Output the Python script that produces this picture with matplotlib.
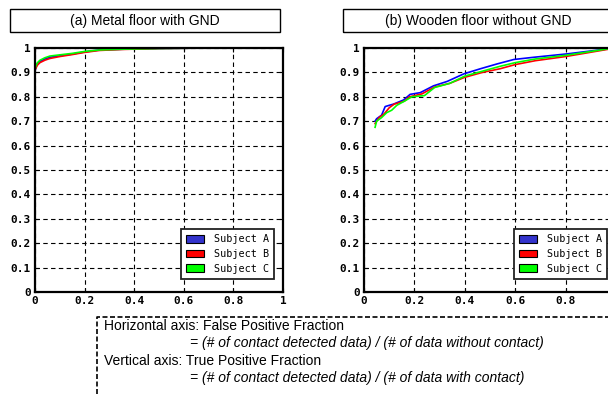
import matplotlib
matplotlib.use("Agg")
import matplotlib.pyplot as plt
from matplotlib.patches import Patch, Rectangle
from matplotlib.lines import Line2D

# ROC data
metal_x = [0.0, 0.005, 0.01, 0.02, 0.04, 0.06, 0.1, 0.15, 0.2, 0.26, 0.35, 0.5, 0.7, 1.0]
metal_a = [0.905, 0.925, 0.935, 0.945, 0.955, 0.962, 0.968, 0.975, 0.984, 0.992, 0.995, 0.998, 1.0, 1.0]
metal_b = [0.91, 0.92, 0.93, 0.94, 0.95, 0.957, 0.965, 0.973, 0.982, 0.99, 0.994, 0.998, 1.0, 1.0]
metal_c = [0.915, 0.93, 0.94, 0.95, 0.96, 0.967, 0.972, 0.978, 0.986, 0.992, 0.995, 0.998, 1.0, 1.0]

wood_xa = [0.044, 0.05, 0.07, 0.084, 0.10, 0.117, 0.157, 0.183, 0.223, 0.276, 0.33, 0.396, 0.462, 0.529, 0.595, 0.674, 0.807, 0.972, 1.0]
wood_a = [0.70, 0.71, 0.725, 0.76, 0.765, 0.77, 0.787, 0.81, 0.817, 0.845, 0.863, 0.894, 0.915, 0.935, 0.953, 0.962, 0.976, 0.997, 1.0]
wood_xb = [0.044, 0.06, 0.08, 0.10, 0.12, 0.16, 0.18, 0.23, 0.28, 0.34, 0.40, 0.47, 0.54, 0.60, 0.68, 0.80, 0.97, 1.0]
wood_b = [0.69, 0.715, 0.73, 0.755, 0.77, 0.782, 0.80, 0.812, 0.84, 0.855, 0.88, 0.90, 0.915, 0.932, 0.948, 0.965, 0.995, 1.0]
wood_xc = [0.044, 0.05, 0.07, 0.09, 0.11, 0.13, 0.16, 0.19, 0.24, 0.28, 0.34, 0.40, 0.47, 0.54, 0.60, 0.68, 0.80, 0.97, 1.0]
wood_c = [0.675, 0.70, 0.715, 0.735, 0.745, 0.765, 0.782, 0.80, 0.805, 0.838, 0.855, 0.885, 0.905, 0.925, 0.94, 0.955, 0.97, 0.997, 1.0]

subjects = ['Subject A', 'Subject B', 'Subject C']
line_colors = ['#0000ff', '#ff0000', '#00ff00']
patch_colors = ['#3333cc', '#ff0000', '#00ff00']
titles = ['(a) Metal floor with GND', '(b) Wooden floor without GND']
ticks = [0, 0.2, 0.4, 0.6, 0.8, 1]
tick_labels = ['0', '0.2', '0.4', '0.6', '0.8', '1']
yticks = [0, 0.1, 0.2, 0.3, 0.4, 0.5, 0.6, 0.7, 0.8, 0.9, 1]
ytick_labels = ['0', '0.1', '0.2', '0.3', '0.4', '0.5', '0.6', '0.7', '0.8', '0.9', '1']

W, H = 608, 394
fig = plt.figure(figsize=(W / 100, H / 100), dpi=100)

ax_a = fig.add_axes([35 / W, (H - 292) / H, 248 / W, 244 / H])
# right panel runs past the figure edge, as in the source
ax_b = fig.add_axes([364 / W, (H - 292) / H, 252 / W, 244 / H])

series = [
    (ax_a, [(metal_x, metal_a), (metal_x, metal_b), (metal_x, metal_c)]),
    (ax_b, [(wood_xa, wood_a), (wood_xb, wood_b), (wood_xc, wood_c)]),
]

for ax, curves in series:
    for (xs, ys), c in zip(curves, line_colors):
        ax.plot(xs, ys, color=c, lw=1.2)
    ax.set_xlim(0, 1)
    ax.set_ylim(0, 1)
    ax.set_xticks(ticks)
    ax.set_xticklabels(tick_labels)
    ax.set_yticks(yticks)
    ax.set_yticklabels(ytick_labels)
    for lab in ax.get_xticklabels() + ax.get_yticklabels():
        lab.set_family('DejaVu Sans Mono')
        lab.set_fontweight('bold')
        lab.set_fontsize(8)
    ax.tick_params(direction='in', length=3, width=0.8, pad=3, top=True, right=True)
    ax.grid(True, color='black', linestyle=(0, (4, 3)), linewidth=0.8)
    for sp in ax.spines.values():
        sp.set_linewidth(1.6)
    handles = [Patch(facecolor=pc, edgecolor='black', linewidth=0.8) for pc in patch_colors]
    leg = ax.legend(handles, subjects, loc='lower right',
                    bbox_to_anchor=(0.965, 0.055), fancybox=False,
                    prop={'family': 'DejaVu Sans Mono', 'size': 7.3},
                    handlelength=1.8, handleheight=0.8, handletextpad=1.0,
                    labelspacing=0.45, borderpad=0.5, borderaxespad=0.0)
    leg.get_frame().set_edgecolor('#222222')
    leg.get_frame().set_linewidth(1.3)
    leg.get_frame().set_alpha(1)

# the "1" of the right panel falls outside the cropped picture
ax_b.get_xticklabels()[-1].set_visible(False)

# Title boxes
for (x0, x1), t in zip([(10, 280), (343, 613)], titles):
    fig.patches.append(Rectangle((x0 / W, (H - 32) / H), (x1 - x0) / W, 23 / H,
                                 transform=fig.transFigure, fill=False,
                                 edgecolor='black', linewidth=1.0))
    fig.text((x0 + x1) / 2 / W, (H - 21) / H, t, ha='center', va='center',
             family='Liberation Sans', fontsize=10)

# Note box with dashed border
note = Line2D([97 / W, 97 / W, 1.0], [0, (H - 317) / H, (H - 317) / H],
              transform=fig.transFigure, color='black', lw=1.2,
              linestyle=(0, (3, 1.5)))
fig.lines.append(note)
fig.text(104 / W, (H - 326) / H, 'Horizontal axis: False Positive Fraction',
         family='Liberation Sans', fontsize=10, va='center')
fig.text(190 / W, (H - 343.5) / H,
         '= (# of contact detected data) / (# of data without contact)',
         family='Liberation Sans', fontsize=10, style='italic', va='center')
fig.text(104 / W, (H - 361) / H, 'Vertical axis: True Positive Fraction',
         family='Liberation Sans', fontsize=10, va='center')
fig.text(190 / W, (H - 378) / H,
         '= (# of contact detected data) / (# of data with contact)',
         family='Liberation Sans', fontsize=10, style='italic', va='center')

fig.savefig('out.png', dpi=100)
